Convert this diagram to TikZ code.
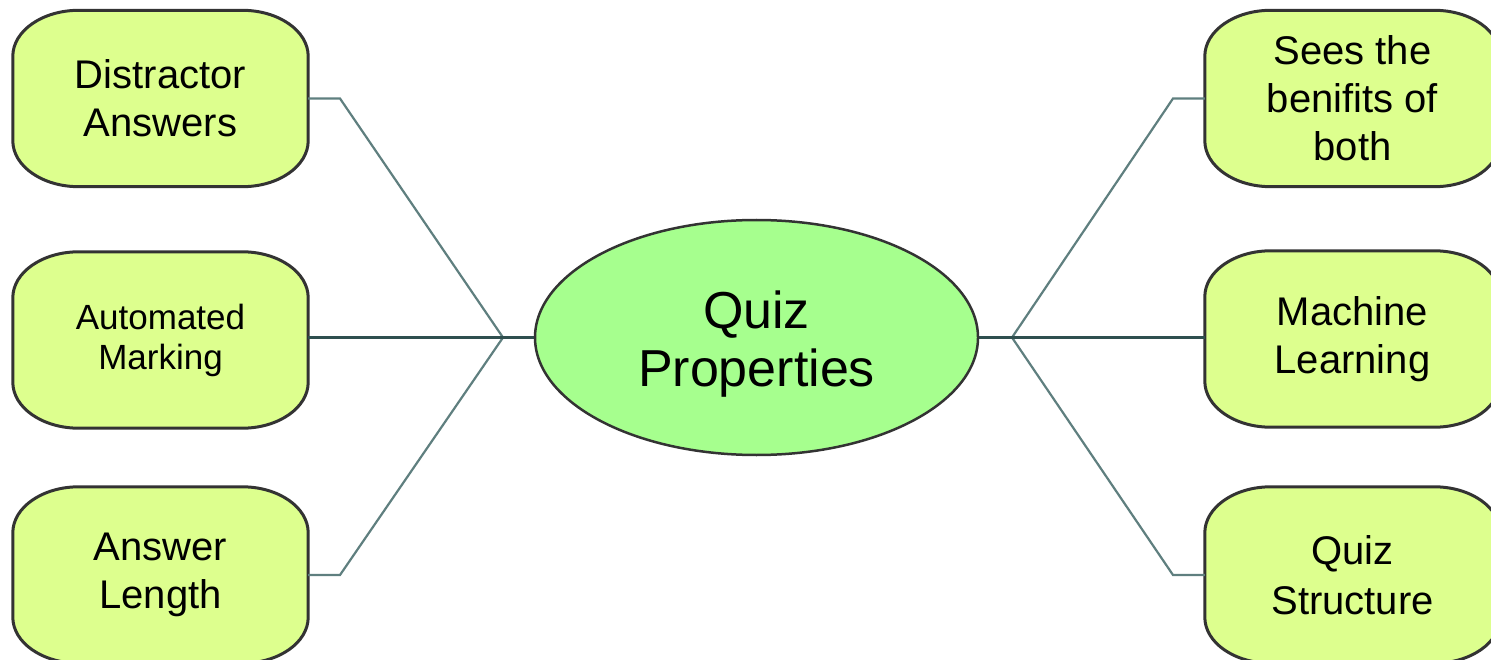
\documentclass[tikz,border=0pt]{standalone}
\usepackage{fontspec}
\setmainfont{Liberation Sans}
\usetikzlibrary{shapes.geometric,backgrounds}
\definecolor{boxfill}{HTML}{DDFF8E}
\definecolor{ellfill}{HTML}{A6FF8E}
\definecolor{edgecol}{HTML}{333333}
\definecolor{linkcol}{HTML}{5F7F7F}
\definecolor{linkdark}{HTML}{2F4F4F}
\newcommand\softbox[1]{%
  \filldraw[fill=boxfill,draw=edgecol,line width=3pt]
    ([xshift=66pt]#1.north west) -- ([xshift=-66pt]#1.north east)
    arc[start angle=90,end angle=0,x radius=66pt,y radius=46pt]
    -- ([yshift=46pt]#1.south east)
    arc[start angle=0,end angle=-90,x radius=66pt,y radius=46pt]
    -- ([xshift=66pt]#1.south west)
    arc[start angle=270,end angle=180,x radius=66pt,y radius=46pt]
    -- ([yshift=-46pt]#1.north west)
    arc[start angle=180,end angle=90,x radius=66pt,y radius=46pt] -- cycle;}
\tikzset{
  box/.style={minimum width=295pt,minimum height=176pt,inner sep=0pt,align=center,
    font=\fontsize{40}{48}\selectfont},
  smallbox/.style={box,font=\fontsize{35}{40}\selectfont},
  link/.style={draw=linkcol,line width=2.2pt},
  linkd/.style={draw=linkdark,line width=2.2pt},
}
\begin{document}
\begin{tikzpicture}[x=1pt,y=-1pt]
\useasboundingbox (0,0) rectangle (1491,660);
\clip (0,0) rectangle (1491,660);
\node[box] (da) at (160.5,98.5) {Distractor\\Answers};
\node[smallbox] (am) at (160.5,340) {Automated\\Marking};
\node[box] (al) at (160.5,575) {Answer\\Length};
\node[box] (sb) at (1352.5,98.5) {Sees the\\benifits of\\both};
\node[box] (ml) at (1352.5,339) {Machine\\Learning};
\node[box,font=\fontsize{40}{50}\selectfont] (qs) at (1352.5,575) {Quiz\\Structure};
\node[ellipse,draw=edgecol,line width=2.5pt,fill=ellfill,minimum width=443pt,minimum height=235pt,
  inner sep=0pt] (qp) at (756.5,337.5) {};
\node[align=center,inner sep=0pt,font=\fontsize{52}{58}\selectfont] (qt) at (756.5,344) {Quiz\\Properties};
\begin{scope}[on background layer]
\softbox{da}\softbox{am}\softbox{al}\softbox{sb}\softbox{ml}\softbox{qs}
\end{scope}
\coordinate (jl) at (503,337.5);
\coordinate (jr) at (1012,337.5);
\coordinate (da1) at (340,98.5);
\coordinate (al1) at (340,575);
\coordinate (sb1) at (1173,98.5);
\coordinate (qs1) at (1173,575);
\begin{scope}[on background layer]
\draw[link] (da.east) -- (da1) -- (jl);
\draw[link] (al.east) -- (al1) -- (jl);
\draw[link] (sb.west) -- (sb1) -- (jr);
\draw[link] (qs.west) -- (qs1) -- (jr);
\draw[linkd] (am.east |- qp.west) -- (qp.west);
\draw[linkd] (ml.west |- qp.east) -- (qp.east);
\end{scope}
\end{tikzpicture}
\end{document}
